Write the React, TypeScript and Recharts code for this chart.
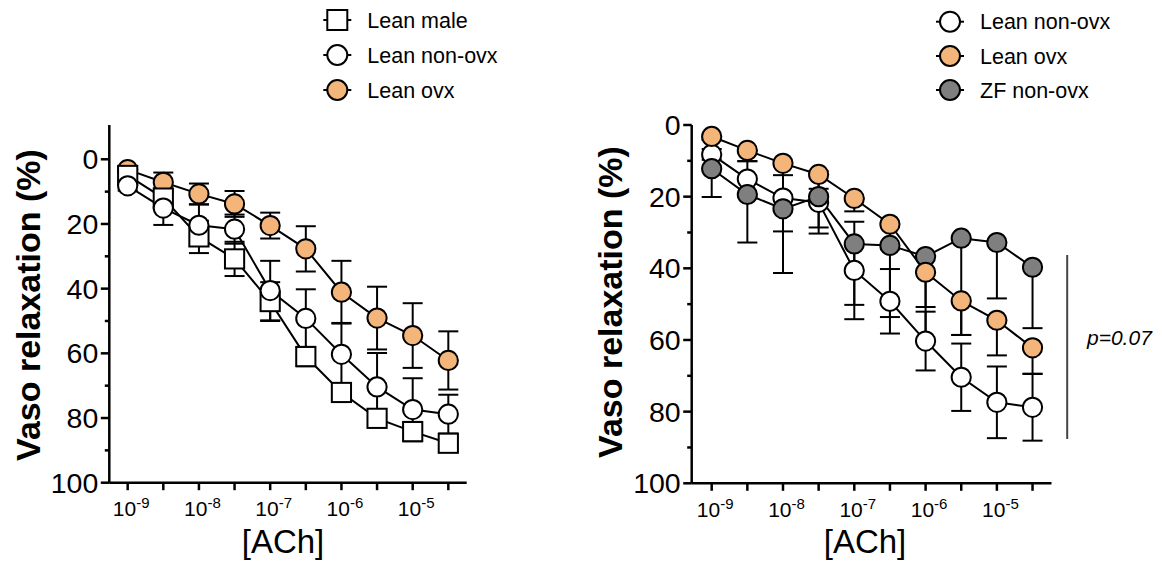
import React from 'react';
import { LineChart, Line, XAxis, YAxis, ErrorBar, Label } from 'recharts';

// ---- data ----
const logConc = [-9, -8.5, -8, -7.5, -7, -6.5, -6, -5.5, -5, -4.5];
const yTicks = [0, 10, 20, 30, 40, 50, 60, 70, 80, 90, 100];
const yMajor = [0, 20, 40, 60, 80, 100];

const leanMale = [5, 12, 24, 30.8, 44, 61, 72.1, 80.1, 84.2, 87.8];
const leanMaleErr = [1, 3, 5, 5.3, 6, 3, 2, 2, 3, 2];

const leanNonOvx = [8.2, 15.1, 20.4, 21.6, 40.6, 49.2, 60.3, 70.4, 77.4, 78.8];
const leanNonOvxErrL = [1.5, 5.2, 6.4, 4.5, 9.2, 9, 9.7, 10.5, 9.7, 6];
const leanNonOvxErrR = [1.5, 5, 9.3, 8.7, 13.6, 9, 8.2, 9.4, 10, 9.3];

const leanOvx = [3.2, 7.1, 10.7, 13.8, 20.5, 27.7, 41.1, 49.1, 54.5, 62.2];
const leanOvxErrL = [1, 3, 3.2, 4, 4, 7, 9.7, 9.7, 10, 9];
const leanOvxErrR = [1, 3, 3.3, 4, 3.6, 7, 9.7, 9.5, 9.8, 7.2];

const zfNonOvx = [12.2, 19.4, 23.4, 20, 33.2, 33.6, 36.7, 31.6, 32.8, 39.7];
const zfNonOvxErr = [7.9, 13.4, 17.9, 8.6, 17, 20, 23.6, 27, 15.6, 17];

const leftSeries = ['Lean male', 'Lean non-ovx', 'Lean ovx'];
const rightSeries = ['Lean non-ovx', 'Lean ovx', 'ZF non-ovx'];

const ORANGE = '#F4B57B';
const GREY = '#7F7F7F';
const FONT = 'Liberation Sans, Arial, sans-serif';

const leftData = logConc.map((x, i) => ({
  x,
  male: leanMale[i], maleErr: leanMaleErr[i],
  non: leanNonOvx[i], nonErr: leanNonOvxErrL[i],
  ovx: leanOvx[i], ovxErr: leanOvxErrL[i],
}));
// right panel: one-sided (downward) bars for Lean ovx and ZF non-ovx
const rightData = logConc.map((x, i) => ({
  x,
  non: leanNonOvx[i], nonErr: leanNonOvxErrR[i],
  ovx: leanOvx[i], ovxErr: [0, leanOvxErrR[i]],
  zf: zfNonOvx[i], zfErr: [0, zfNonOvxErr[i]],
}));

const circleDot = (fill: string) => (p: any) => (
  <circle key={`c-${p.index}`} cx={p.cx} cy={p.cy} r={9.6} fill={fill} stroke="#000" strokeWidth={2} />
);
const squareDot = (p: any) => (
  <rect key={`s-${p.index}`} x={p.cx - 9.6} y={p.cy - 9.6} width={19.2} height={19.2} fill="#fff" stroke="#000" strokeWidth={2} />
);

const makeXTick = (fs: number, sfs: number) => (props: any) => {
  const { x, y, payload } = props;
  const v = payload.value;
  const isInt = Math.abs(v - Math.round(v)) < 1e-6;
  return (
    <g key={`xt-${v}`}>
      <line x1={x} x2={x} y1={y} y2={y + 7.5} stroke="#000" strokeWidth={2.5} />
      {isInt && (
        <text x={x + 3.5} y={y + 33.7} textAnchor="middle" fontFamily={FONT} fontSize={fs} fill="#000">
          10<tspan dy={-8} fontSize={sfs}>{String(Math.round(v))}</tspan>
        </text>
      )}
    </g>
  );
};

const makeYTick = (fs: number) => (props: any) => {
  const { x, y, payload } = props;
  const v = payload.value;
  const major = yMajor.includes(v);
  return (
    <g key={`yt-${v}`}>
      <line x1={x} x2={x - (major ? 8.5 : 4.5)} y1={y} y2={y} stroke="#000" strokeWidth={2.5} />
      {major && (
        <text x={x - 11} y={y} dy="0.35em" textAnchor="end" fontFamily={FONT} fontSize={fs} fill="#000">
          {v}
        </text>
      )}
    </g>
  );
};

const yTitle = (cx: number, cy: number) => () => (
  <text x={cx} y={cy} transform={`rotate(-90 ${cx} ${cy})`} textAnchor="middle" dy="0.36em"
    fontSize={34} fontWeight="bold" fontFamily={FONT} fill="#000">Vaso relaxation (%)</text>
);
const xTitle = (cx: number, cy: number) => () => (
  <text x={cx} y={cy} textAnchor="middle" fontSize={33} fontFamily={FONT} fill="#000">[ACh]</text>
);

const axisLine = { stroke: '#000', strokeWidth: 2.5 };

const LegendItem = ({ x, y, label, shape, fill }: any) => (
  <g>
    <line x1={x - 14} x2={x + 14} y1={y} y2={y} stroke="#000" strokeWidth={2} />
    {shape === 'square' ? (
      <rect x={x - 10} y={y - 10} width={20} height={20} fill={fill} stroke="#000" strokeWidth={2} />
    ) : (
      <circle cx={x} cy={y} r={10} fill={fill} stroke="#000" strokeWidth={2} />
    )}
    <text x={x + 30} y={y} dy="0.35em" fontSize={21.5} fontFamily={FONT} fill="#000">{label}</text>
  </g>
);

const EB = (k: string) => <ErrorBar dataKey={k} width={10} strokeWidth={2} stroke="#000" direction="y" />;

export default function App() {
  return (
    <div style={{ position: 'relative', width: 1162, height: 570, background: '#fff', fontFamily: FONT }}>
      <style>{`body{margin:0;background:#fff}`}</style>

      {/* Left panel */}
      <div style={{ position: 'absolute', left: 0, top: 0 }}>
        <LineChart width={580} height={570} data={leftData}
          margin={{ top: 125, left: 9.3, right: 113.3, bottom: 27.3 }}>
          <XAxis dataKey="x" type="number" domain={[-9.258, -4.242]} ticks={logConc}
            allowDataOverflow interval={0} height={60} tickSize={0} tickMargin={0}
            tickLine={false} axisLine={axisLine} tick={makeXTick(21, 15)}>
            <Label content={xTitle(283, 553) as any} />
          </XAxis>
          <YAxis type="number" reversed domain={[-10.6, 100]} ticks={yTicks} allowDataOverflow
            interval={0} width={100} tickSize={0} tickMargin={0} tickLine={false}
            axisLine={axisLine} tick={makeYTick(28.5)}>
            <Label content={yTitle(28, 305) as any} />
          </YAxis>
          <Line dataKey="ovx" name={leftSeries[2]} stroke="#000" strokeWidth={2} isAnimationActive={false}
            dot={circleDot(ORANGE)} activeDot={false}>
            {EB('ovxErr')}
          </Line>
          <Line dataKey="male" name={leftSeries[0]} stroke="#000" strokeWidth={2} isAnimationActive={false}
            dot={squareDot} activeDot={false}>
            {EB('maleErr')}
          </Line>
          <Line dataKey="non" name={leftSeries[1]} stroke="#000" strokeWidth={2} isAnimationActive={false}
            dot={circleDot('#fff')} activeDot={false}>
            {EB('nonErr')}
          </Line>
        </LineChart>
      </div>

      {/* Right panel */}
      <div style={{ position: 'absolute', left: 580, top: 0 }}>
        <LineChart width={582} height={570} data={rightData}
          margin={{ top: 125, left: 11.7, right: 110.5, bottom: 26.7 }}>
          <XAxis dataKey="x" type="number" domain={[-9.2805, -4.234]} ticks={logConc}
            allowDataOverflow interval={0} height={60} tickSize={0} tickMargin={0}
            tickLine={false} axisLine={axisLine} tick={makeXTick(21, 15)}>
            <Label content={xTitle(285, 553) as any} />
          </XAxis>
          <YAxis type="number" reversed domain={[0, 100]} ticks={yTicks} allowDataOverflow
            interval={0} width={100} tickSize={0} tickMargin={0} tickLine={false}
            axisLine={axisLine} tick={makeYTick(28.5)}>
            <Label content={yTitle(30, 302) as any} />
          </YAxis>
          <Line dataKey="non" name={rightSeries[0]} stroke="#000" strokeWidth={2} isAnimationActive={false}
            dot={circleDot('#fff')} activeDot={false}>
            {EB('nonErr')}
          </Line>
          <Line dataKey="zf" name={rightSeries[2]} stroke="#000" strokeWidth={2} isAnimationActive={false}
            dot={circleDot(GREY)} activeDot={false}>
            {EB('zfErr')}
          </Line>
          <Line dataKey="ovx" name={rightSeries[1]} stroke="#000" strokeWidth={2} isAnimationActive={false}
            dot={circleDot(ORANGE)} activeDot={false}>
            {EB('ovxErr')}
          </Line>
        </LineChart>
      </div>

      {/* Legends and annotation */}
      <svg width={1162} height={570} style={{ position: 'absolute', left: 0, top: 0, pointerEvents: 'none' }}>
        <LegendItem x={337.3} y={20} label={leftSeries[0]} shape="square" fill="#fff" />
        <LegendItem x={337.3} y={55} label={leftSeries[1]} shape="circle" fill="#fff" />
        <LegendItem x={337.3} y={90} label={leftSeries[2]} shape="circle" fill={ORANGE} />
        <LegendItem x={950} y={21.7} label={rightSeries[0]} shape="circle" fill="#fff" />
        <LegendItem x={950} y={56} label={rightSeries[1]} shape="circle" fill={ORANGE} />
        <LegendItem x={950} y={90} label={rightSeries[2]} shape="circle" fill={GREY} />
        <line x1={1067.2} x2={1067.2} y1={255} y2={439} stroke="#444" strokeWidth={2} />
        <text x={1087} y={338} dy="0.35em" fontSize={21} fontStyle="italic" fontFamily={FONT} fill="#000">p=0.07</text>
      </svg>
    </div>
  );
}
